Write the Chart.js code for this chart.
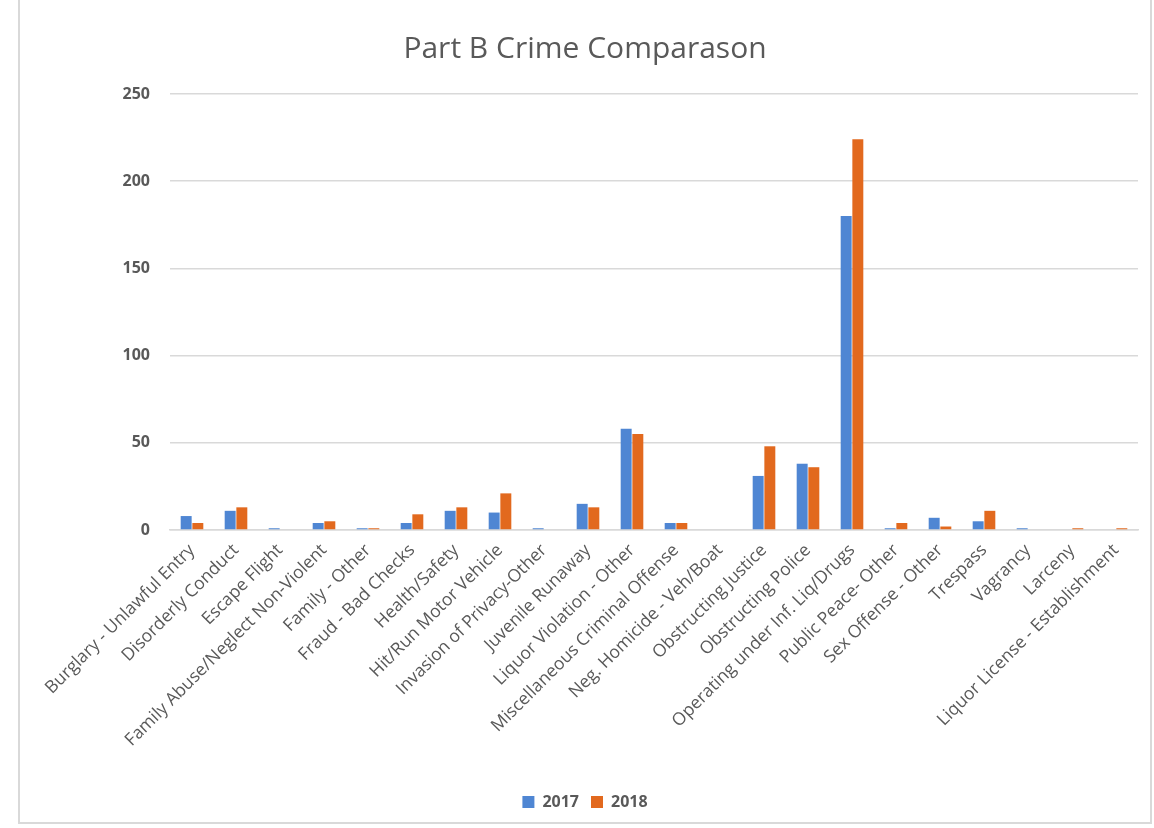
<!DOCTYPE html>
<html>
<head>
<meta charset="utf-8">
<script src="https://cdn.jsdelivr.net/npm/chart.js@4"></script>
<style>
  html, body { margin: 0; padding: 0; background: #fff; }
  #frame { position: absolute; left: 18px; top: -2px; width: 1134px; height: 826px; border: 2px solid #d9d9d9; box-sizing: border-box; }
  #wrap { position: absolute; left: 0; top: 0; width: 1154px; height: 828px; }
</style>
</head>
<body>
<div id="frame"></div>
<div id="wrap"><canvas id="chart"></canvas></div>
<script>
// Part B crime counts by offence
const categories = [
  'Burglary - Unlawful Entry', 'Disorderly Conduct', 'Escape Flight',
  'Family Abuse/Neglect Non-Violent', 'Family - Other', 'Fraud - Bad Checks',
  'Health/Safety', 'Hit/Run Motor Vehicle', 'Invasion of Privacy-Other',
  'Juvenile Runaway', 'Liquor Violation - Other', 'Miscellaneous Criminal Offense',
  'Neg. Homicide - Veh/Boat', 'Obstructing Justice', 'Obstructing Police',
  'Operating under Inf. Liq/Drugs', 'Public Peace- Other', 'Sex Offense - Other',
  'Trespass', 'Vagrancy', 'Larceny', 'Liquor License - Establishment'
];
const counts2017 = [8, 11, 1, 4, 1, 4, 11, 10, 1, 15, 58, 4, 0, 31, 38, 180, 1, 7, 5, 1, 0, 0];
const counts2018 = [4, 13, 0, 5, 1, 9, 13, 21, 0, 13, 55, 4, 0, 48, 36, 224, 4, 2, 11, 0, 1, 1];
const yTicks = [0, 50, 100, 150, 200, 250];

const txt = '#595959';
const font = "'Open Sans', 'DejaVu Sans', sans-serif";

new Chart(document.getElementById('chart').getContext('2d'), {
  type: 'bar',
  data: {
    labels: categories,
    datasets: [
      { label: '2017', data: counts2017, backgroundColor: '#4f86d3' },
      { label: '2018', data: counts2018, backgroundColor: '#e2691e' }
    ]
  },
  options: {
    responsive: true,
    maintainAspectRatio: false,
    animation: false,
    datasets: { bar: { categoryPercentage: 0.53, barPercentage: 0.94 } },
    layout: { padding: { left: 32, right: 16, top: 31, bottom: 8 } },
    plugins: {
      title: {
        display: true, text: 'Part B Crime Comparason', color: txt,
        font: { family: font, size: 30, weight: 'normal' },
        padding: { top: 0, bottom: 27 }
      },
      legend: {
        position: 'bottom',
        labels: { color: txt, font: { family: font, size: 16, weight: 'bold' }, boxWidth: 12, boxHeight: 12, padding: 12 }
      },
      tooltip: { enabled: false }
    },
    scales: {
      x: {
        grid: { display: false },
        border: { color: '#d9d9d9', width: 1.5 },
        ticks: {
          color: txt, minRotation: 45, maxRotation: 45, autoSkip: false,
          font: { family: font, size: 17.5 }, padding: 2
        },
        afterFit: s => { s.height = 252; }
      },
      y: {
        min: 0, max: 250,
        afterBuildTicks: s => { s.ticks = yTicks.map(v => ({ value: v })); },
        grid: { color: '#d9d9d9', lineWidth: 1.5, drawTicks: false },
        border: { display: false },
        ticks: { color: txt, font: { family: font, size: 16, weight: 'bold' }, padding: 20 },
        afterFit: s => { s.width = 138; }
      }
    }
  }
});
</script>
</body>
</html>
